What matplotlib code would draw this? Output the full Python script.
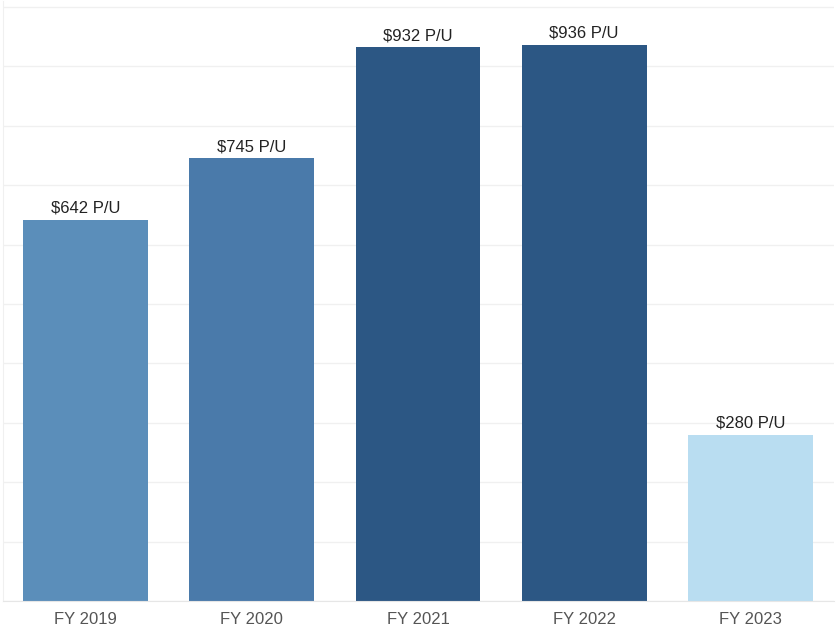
import matplotlib
matplotlib.use("Agg")
import matplotlib.pyplot as plt

categories = ["FY 2019", "FY 2020", "FY 2021", "FY 2022", "FY 2023"]
values = [642, 745, 932, 936, 280]
labels = ["$642 P/U", "$745 P/U", "$932 P/U", "$936 P/U", "$280 P/U"]
colors = ["#5b8eba", "#4a7aaa", "#2c5784", "#2c5784", "#b9ddf1"]

fig = plt.figure(figsize=(8.36, 6.28), dpi=100)
ax = fig.add_axes([2.5/836, 27/628, 831/836, 600/628])

x = list(range(len(categories)))
ax.bar(x, values, width=0.75, color=colors, zorder=2)
for xi, v, lab in zip(x, values, labels):
    ax.text(xi, v + 7, lab, ha="center", va="bottom", fontsize=12,
            family="Liberation Sans", color="#222222")

ax.set_xlim(-0.5, 4.5)
ax.set_ylim(0, 1010)
ax.set_yticks(range(0, 1001, 100))
ax.yaxis.grid(True, color="#f0f0f0", linewidth=1, zorder=0)
ax.set_yticklabels([])
ax.tick_params(axis="y", length=0)
ax.set_xticks(x)
ax.set_xticklabels(categories, fontsize=12, color="#555555", family="Liberation Sans")
ax.tick_params(axis="x", length=0, pad=8)
for s in ["top", "right"]:
    ax.spines[s].set_visible(False)
ax.spines["left"].set_color("#f0f0f0")
ax.spines["bottom"].set_color("#e6e6e6")

fig.savefig("out.png", dpi=100)
